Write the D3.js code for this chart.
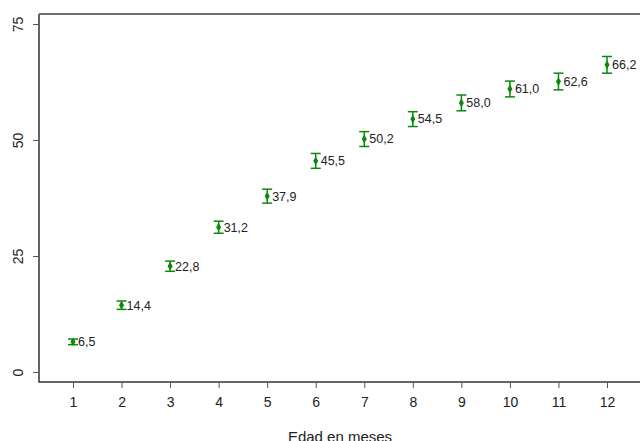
<!DOCTYPE html>
<html><head><meta charset="utf-8">
<script src="https://cdn.jsdelivr.net/npm/d3@7"></script>
<style>body{margin:0;background:#fff}svg{display:block}</style>
</head><body>
<script>
const months = [1,2,3,4,5,6,7,8,9,10,11,12];
const values = [6.5,14.4,22.8,31.2,37.9,45.5,50.2,54.5,58.0,61.0,62.6,66.2];
const errors = [0.6,0.9,1.1,1.3,1.5,1.6,1.6,1.6,1.7,1.7,1.8,1.8];
const yTicks = [0,25,50,75];
const xLabel = "Edad en meses";

const W=640,H=441;
const svg=d3.select("body").append("svg").attr("width",W).attr("height",H);
const x=d3.scaleLinear().domain([1,12]).range([73,607]);
const y=d3.scaleLinear().domain([0,75]).range([372,24]);
const green="#0a8a0a";
const font="Liberation Sans, Arial, sans-serif";

// frame
svg.append("path").attr("d",`M39,14H${W+5}M39,14V382H${W+5}`).attr("fill","none").attr("stroke","#333").attr("stroke-width",1.5);
svg.append("path").attr("d",`M39,14H${W+5}`).attr("stroke","#777").attr("stroke-width",1.5);

// y axis
const ya=svg.append("g").attr("transform","translate(39,0)")
  .call(d3.axisLeft(y).tickValues(yTicks).tickSize(6).tickPadding(10));
ya.select(".domain").remove();
ya.selectAll("line").attr("stroke","#555");
ya.selectAll("text").attr("font-family",font).attr("font-size",14).attr("fill","#222")
  .attr("transform",function(d){return `rotate(-90,${-16},${y(d)})`;})
  .attr("x",-16).attr("y",d=>y(d)).attr("dy","0.35em").attr("text-anchor","middle")
  .attr("transform",d=>`rotate(-90,-16,${y(d)})`).attr("y",null)
  .each(function(d){d3.select(this).attr("x",-16).attr("y",0);});
// simpler reposition
ya.selectAll(".tick text").attr("transform","rotate(-90)").attr("x",0).attr("y",-21).attr("dy","0.35em").attr("text-anchor","middle");

// x axis
const xa=svg.append("g").attr("transform","translate(0,382)")
  .call(d3.axisBottom(x).tickValues(months).tickSize(6).tickPadding(9));
xa.select(".domain").remove();
xa.selectAll("line").attr("stroke","#555");
xa.selectAll("text").attr("font-family",font).attr("font-size",14).attr("fill","#222");

svg.append("text").attr("x",340).attr("y",442).attr("text-anchor","middle")
  .attr("font-family",font).attr("font-size",15).attr("fill","#222").text(xLabel);

// error bars
const g=svg.append("g");
months.forEach((m,i)=>{
  const cx=x(m),v=values[i],e=errors[i];
  g.append("line").attr("x1",cx).attr("x2",cx).attr("y1",y(v-e)).attr("y2",y(v+e)).attr("stroke",green).attr("stroke-width",1.5);
  [v-e,v+e].forEach(t=>g.append("line").attr("x1",cx-5).attr("x2",cx+5).attr("y1",y(t)).attr("y2",y(t)).attr("stroke",green).attr("stroke-width",1.5));
  g.append("path").attr("d",d3.symbol(d3.symbolDiamond,22)()).attr("transform",`translate(${cx},${y(v)})`).attr("fill",green);
  g.append("text").attr("x",cx+5).attr("y",y(v)).attr("dy","0.35em")
    .attr("font-family",font).attr("font-size",12.5).attr("fill","#222")
    .text(v.toFixed(1).replace(".",","));
});
</script>
</body></html>
